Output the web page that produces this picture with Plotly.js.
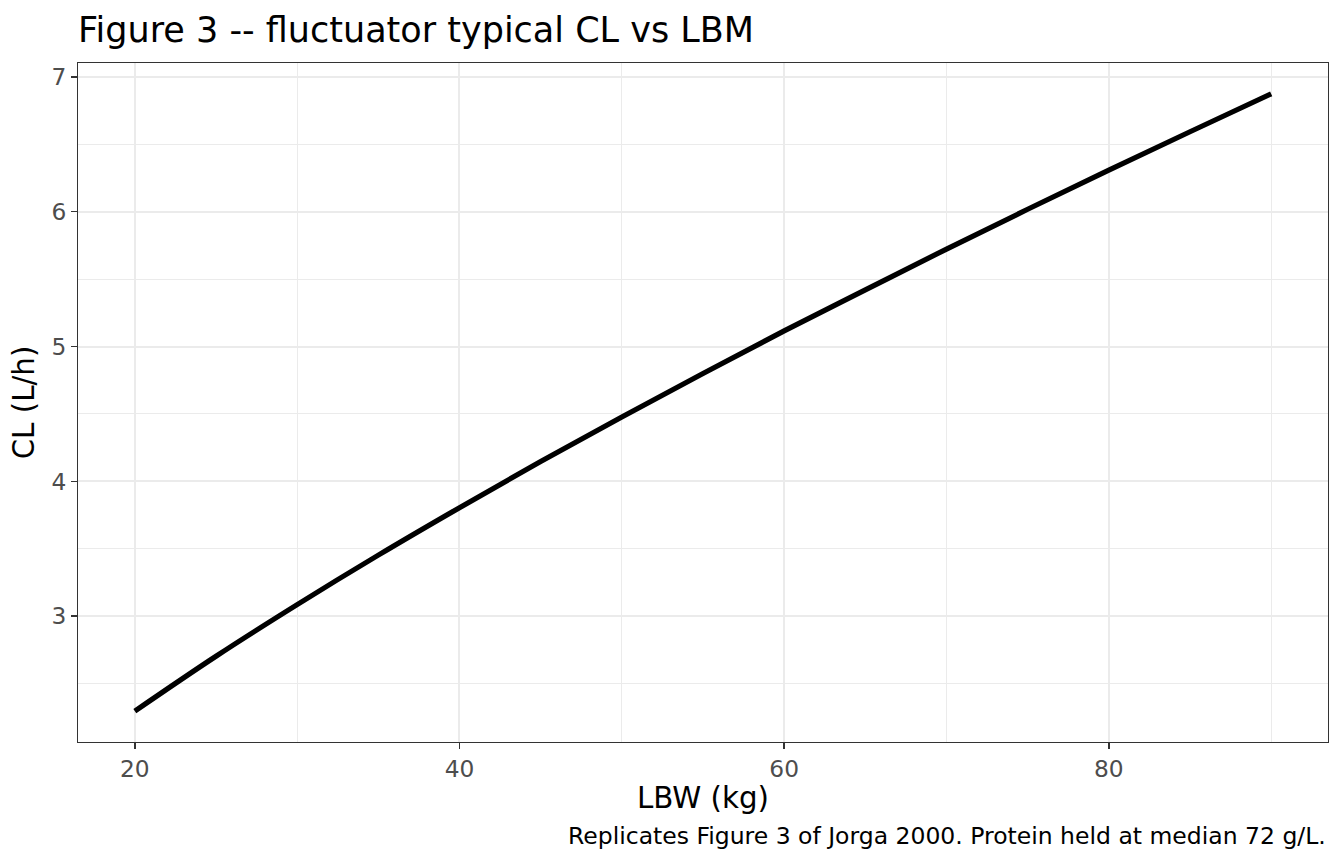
<!DOCTYPE html>
<html>
<head>
<meta charset="utf-8">
<script src="https://cdn.plot.ly/plotly-3.0.1.min.js"></script>
<style>html,body{margin:0;padding:0;background:#fff;}#chart{width:1344px;height:864px;}</style>
</head>
<body>
<div id="chart"></div>
<script>
var lbw = [20, 25, 30, 35, 40, 45, 50, 55, 60, 65, 70, 75, 80, 85, 90];
var cl = [2.296, 2.703, 3.086, 3.453, 3.805, 4.147, 4.478, 4.800, 5.116, 5.420, 5.723, 6.018, 6.308, 6.593, 6.874];
var xTicks = [20, 40, 60, 80];
var yTicks = [3, 4, 5, 6, 7];

var FONT = 'DejaVu Sans, sans-serif';
var trace = {
  x: lbw, y: cl, type: 'scatter', mode: 'lines',
  line: {color: '#000000', width: 5.2, shape: 'spline', smoothing: 1},
  hoverinfo: 'skip'
};
var layout = {
  width: 1344, height: 864,
  paper_bgcolor: '#ffffff', plot_bgcolor: '#ffffff',
  margin: {l: 78, r: 16, t: 63, b: 122},
  showlegend: false,
  font: {family: FONT, color: '#000000'},
  title: {text: 'Figure 3 -- fluctuator typical CL vs LBM', x: 0, xanchor: 'left', xref: 'paper',
          y: 1 - 30/864, yanchor: 'middle', font: {family: FONT, size: 35, color: '#000000'}},
  xaxis: {
    range: [16.5, 93.5], tickvals: xTicks, ticktext: xTicks.map(String),
    ticks: 'outside', ticklen: 6, tickwidth: 1.5, tickcolor: '#333333',
    tickfont: {family: FONT, size: 23.3, color: '#4D4D4D'},
    showgrid: true, gridcolor: '#EBEBEB', gridwidth: 2,
    minor: {tickvals: [30, 50, 70, 90], showgrid: true, gridcolor: '#EBEBEB', gridwidth: 1, ticks: ''},
    zeroline: false, showline: true, mirror: true, linecolor: '#333333', linewidth: 1,
    title: {text: 'LBW (kg)', font: {family: FONT, size: 29.3, color: '#000000'}, standoff: 6}
  },
  yaxis: {
    range: [2.067, 7.103], tickvals: yTicks, ticktext: yTicks.map(String),
    ticks: 'outside', ticklen: 6, tickwidth: 1.5, tickcolor: '#333333',
    tickfont: {family: FONT, size: 23.3, color: '#4D4D4D'},
    showgrid: true, gridcolor: '#EBEBEB', gridwidth: 2,
    minor: {tickvals: [2.5, 3.5, 4.5, 5.5, 6.5], showgrid: true, gridcolor: '#EBEBEB', gridwidth: 1, ticks: ''},
    zeroline: false, showline: true, mirror: true, linecolor: '#333333', linewidth: 1,
    title: {text: 'CL (L/h)', font: {family: FONT, size: 29.3, color: '#000000'}, standoff: 8}
  },
  annotations: [{
    text: 'Replicates Figure 3 of Jorga 2000. Protein held at median 72 g/L.',
    xref: 'paper', yref: 'paper', x: 1, y: -(836 - 742)/(864 - 63 - 122),
    xanchor: 'right', yanchor: 'middle', showarrow: false,
    font: {family: FONT, size: 23.5, color: '#000000'}
  }]
};
Plotly.newPlot('chart', [trace], layout, {displayModeBar: false, staticPlot: true});
</script>
</body>
</html>
